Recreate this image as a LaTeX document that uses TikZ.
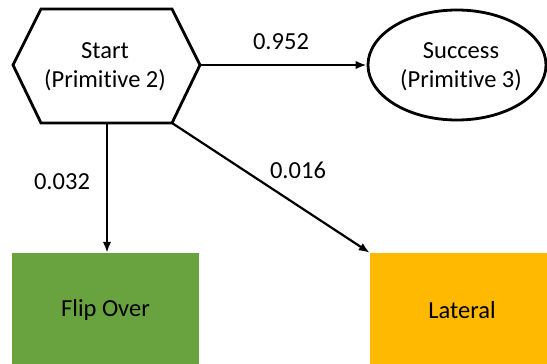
\documentclass[tikz,border=0pt]{standalone}
\usepackage{fontspec}
\setmainfont[Ligatures=NoCommon]{Carlito}
\usetikzlibrary{arrows.meta,shapes.geometric}
\definecolor{flipgreen}{RGB}{104,163,63}
\definecolor{latorange}{RGB}{255,185,0}
\tikzset{
  conn/.style={line width=2.2pt,-{Latex[length=11pt,width=8.5pt]}},
  shapeline/.style={line width=2.8pt,line join=miter},
  lbl/.style={font=\fontsize{24.5}{29}\selectfont,inner sep=0pt},
  boxnode/.style={minimum width=186pt,minimum height=114pt,inner sep=0pt,font=\fontsize{24.5}{29}\selectfont},
}
\begin{document}
\begin{tikzpicture}[x=1pt,y=-1pt]
\useasboundingbox (0,0) rectangle (547,364);
\clip (0,0) rectangle (547,364);
% hexagon
\coordinate (hexNW) at (41,9);
\coordinate (hexNE) at (172,9);
\coordinate (hexE) at (200,65);
\coordinate (hexSE) at (172,123);
\coordinate (hexSW) at (41,123);
\coordinate (hexW) at (13,65);
\coordinate (hexS) at (107,123);
\draw[shapeline] (hexNW) -- (hexNE) -- (hexE) -- (hexSE) -- (hexSW) -- (hexW) -- cycle;
\node[lbl,align=center] (start) at (105,67) {Start\\(Primitive 2)};
% ellipse
\node[draw,ellipse,line width=2.8pt,minimum width=178pt,minimum height=110pt,inner sep=0pt] (succ) at (457,65) {};
\node[lbl,align=center] (succtext) at (461,67) {Success\\(Primitive 3)};
% boxes
\node[boxnode,fill=flipgreen,minimum width=187pt] (flip) at (105.5,310) {Flip Over};
\node[boxnode,fill=latorange,minimum width=184pt] (lat) at (462,310) {Lateral};
% connectors
\draw[conn] (hexE) -- (succ.west);
\draw[conn] (hexS) -- (hexS |- flip.north);
\draw[conn] (hexSE) -- (lat.north west);
% labels
\node[lbl] (p952) at (281,42) {0.952};
\node[lbl] (p032) at (62,182) {0.032};
\node[lbl] (p016) at (298,170) {0.016};
\end{tikzpicture}
\end{document}
